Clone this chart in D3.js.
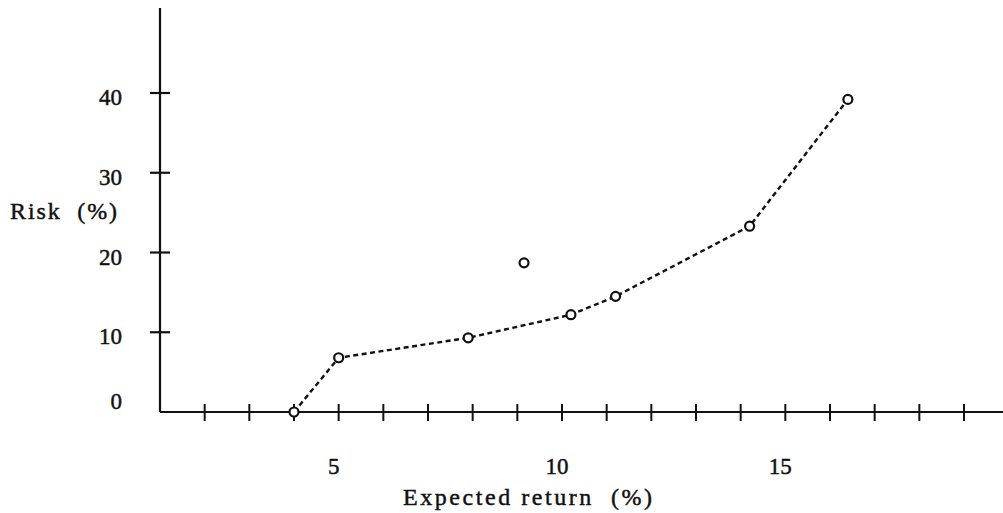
<!DOCTYPE html>
<html>
<head>
<meta charset="utf-8">
<script src="https://cdn.jsdelivr.net/npm/d3@7"></script>
<style>
  html, body { margin: 0; padding: 0; background: #fff; }
  svg { display: block; }
  text { font-family: "Liberation Serif", "DejaVu Serif", serif; fill: #111; stroke: #111; stroke-width: 0.45px; }
</style>
</head>
<body>
<svg id="chart" width="1003" height="513"></svg>
<script>
// ---- data ----
const frontierReturn = [4, 5, 7.9, 10.2, 11.2, 14.2, 16.4];
const frontierRisk   = [0, 6.8, 9.3, 12.2, 14.5, 23.3, 39.2];
const outlierReturn  = [9.15];
const outlierRisk    = [18.7];
const xTickValues = [2, 3, 4, 5, 6, 7, 8, 9, 10, 11, 12, 13, 14, 15, 16, 17, 18, 19];
const xTickLabels = ["5", "10", "15"];
const yTickValues = [0, 10, 20, 30, 40];
const xTitle = "Expected return (%)";
const yTitle = "Risk (%)";

// ---- layout ----
const svg = d3.select("#chart");
const x = d3.scaleLinear().domain([1, 19]).range([160, 964]);
const y = d3.scaleLinear().domain([0, 40]).range([412, 93]);
const ink = "#111";

// x axis line
svg.append("line")
  .attr("x1", x(1)).attr("x2", 1003)
  .attr("y1", y(0)).attr("y2", y(0))
  .attr("stroke", ink).attr("stroke-width", 2.2);
// y axis line
svg.append("line")
  .attr("x1", x(1)).attr("x2", x(1))
  .attr("y1", 8).attr("y2", y(0))
  .attr("stroke", ink).attr("stroke-width", 2.2);

// x ticks (crossing the axis)
svg.append("g").selectAll("line").data(xTickValues).join("line")
  .attr("x1", d => x(d)).attr("x2", d => x(d))
  .attr("y1", y(0) - 8).attr("y2", y(0) + 9)
  .attr("stroke", ink).attr("stroke-width", 2);

// x tick labels
svg.append("g").selectAll("text").data(xTickLabels).join("text")
  .attr("x", d => x(+d) - 5)
  .attr("y", 474)
  .attr("text-anchor", "middle")
  .attr("font-size", 23)
  .text(d => d);

// y ticks (crossing the axis)
svg.append("g").selectAll("line").data(yTickValues.filter(d => d > 0)).join("line")
  .attr("x1", x(1) - 10).attr("x2", x(1) + 10)
  .attr("y1", d => y(d)).attr("y2", d => y(d))
  .attr("stroke", ink).attr("stroke-width", 2.2);

// y tick labels
svg.append("g").selectAll("text").data(yTickValues).join("text")
  .attr("x", 122)
  .attr("y", d => y(d) + (d === 0 ? -3 : 12))
  .attr("text-anchor", "end")
  .attr("font-size", 23)
  .text(d => d);

// axis titles
svg.append("text")
  .attr("x", 10).attr("y", 219)
  .attr("font-size", 24)
  .attr("textLength", 107).attr("lengthAdjust", "spacing")
  .attr("xml:space", "preserve")
  .text(yTitle.replace(" ", "  "));

svg.append("text")
  .attr("x", 403).attr("y", 505)
  .attr("font-size", 24)
  .attr("textLength", 249).attr("lengthAdjust", "spacing")
  .attr("xml:space", "preserve")
  .text(xTitle.replace("n (", "n  ("));

// frontier line
const pts = frontierReturn.map((r, i) => [r, frontierRisk[i]]);
const line = d3.line().x(d => x(d[0])).y(d => y(d[1])).curve(d3.curveLinear);
svg.append("path")
  .attr("d", line(pts))
  .attr("fill", "none")
  .attr("stroke", ink)
  .attr("stroke-width", 2.4)
  .attr("stroke-dasharray", "5,3.5");

// points
const allPts = pts.concat(outlierReturn.map((r, i) => [r, outlierRisk[i]]));
svg.append("g").selectAll("circle").data(allPts).join("circle")
  .attr("cx", d => x(d[0])).attr("cy", d => y(d[1]))
  .attr("r", 4.5)
  .attr("fill", "#fff")
  .attr("stroke", ink)
  .attr("stroke-width", 2.2);
</script>
</body>
</html>
